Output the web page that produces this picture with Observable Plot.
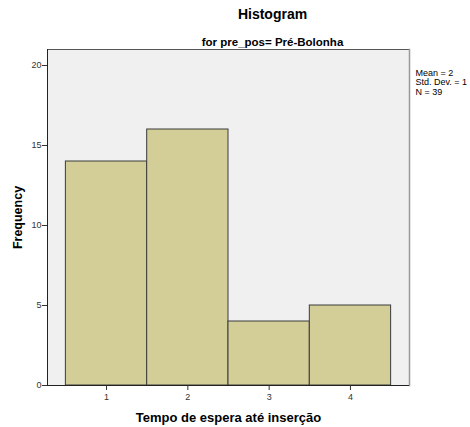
<!DOCTYPE html>
<html><head><meta charset="utf-8">
<script src="https://cdn.jsdelivr.net/npm/d3@7"></script>
<script src="https://cdn.jsdelivr.net/npm/@observablehq/plot@0.6"></script>
<style>
body{margin:0;background:#fff;font-family:"Liberation Sans",Arial,sans-serif;}
</style></head><body>
<div id="chart"></div>
<script>
const bins = [1, 2, 3, 4];
const counts = [14, 16, 4, 5];
const binWidth = 1;
const yTicks = [0, 5, 10, 15, 20];
const statsLines = ["Mean = 2", "Std. Dev. = 1", "N = 39"];
const title = "Histogram";
const subtitle = "for pre_pos= Pré-Bolonha";
const xLabel = "Tempo de espera até inserção";
const yLabel = "Frequency";

const data = bins.map((b, i) => ({bin: b, count: counts[i]}));

const chart = Plot.plot({
  width: 470,
  height: 427,
  marginTop: 49,
  marginBottom: 42,
  marginLeft: 47,
  marginRight: 61,
  style: {fontFamily: "'Liberation Sans', Arial, sans-serif", fontSize: "9px", color: "#333"},
  x: {domain: [0.274, 4.726], ticks: bins, tickSize: 5, label: null, tickFormat: d3.format("d")},
  y: {domain: [0, 21], ticks: yTicks, tickSize: 5, label: null},
  marks: [
    Plot.frame({fill: "#f0f0f0", stroke: "none"}),
    Plot.rectY(data, {x1: d => d.bin - binWidth/2, x2: d => d.bin + binWidth/2, y: "count", fill: "#d3ce98", stroke: "#3a3a3a", strokeWidth: 1}),
    Plot.frame({anchor: "top", stroke: "#555"}),
    Plot.frame({anchor: "right", stroke: "#999", strokeWidth: 1.5}),
    Plot.ruleY([0], {stroke: "#222"}),
    Plot.frame({anchor: "left", stroke: "#222"}),
    Plot.axisX({ticks: bins, tickSize: 5, tickPadding: 3, tickFormat: d3.format("d"), label: null, stroke: "#333"}),
    Plot.axisY({ticks: yTicks, tickSize: 5, tickPadding: 1, label: null, stroke: "#333"}),
    Plot.text([title], {frameAnchor: "top", dx: 44, dy: -40, textAnchor: "middle", fontSize: 14, fontWeight: "bold", fill: "#000"}),
    Plot.text([subtitle], {frameAnchor: "top", dx: 44, dy: -12, textAnchor: "middle", fontSize: 11.5, fontWeight: "bold", fill: "#000"}),
    Plot.text([statsLines.join("\n")], {frameAnchor: "top-right", dx: 6, dy: 19, textAnchor: "start", lineHeight: 1.1, fontSize: 9, fill: "#000"}),
    Plot.text([xLabel], {frameAnchor: "bottom", dy: 36, textAnchor: "middle", fontSize: 13, fontWeight: "bold", fill: "#000"}),
    Plot.text([yLabel], {frameAnchor: "left", dx: -30, rotate: -90, textAnchor: "middle", fontSize: 12.5, fontWeight: "bold", fill: "#000"})
  ]
});
document.getElementById("chart").appendChild(chart);
</script>
</body></html>
